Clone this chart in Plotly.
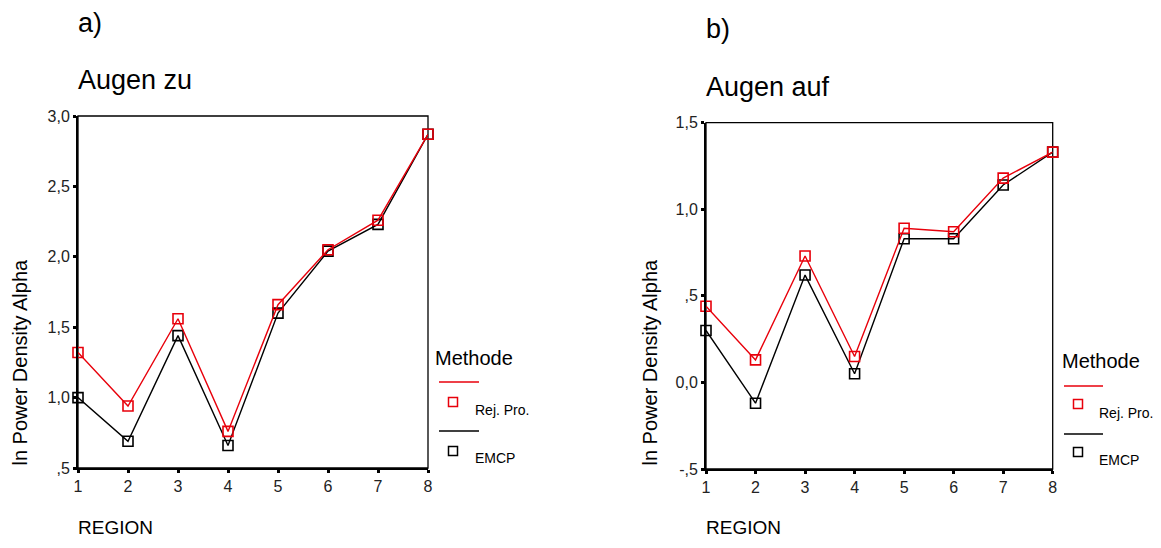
import plotly.graph_objects as go

W, H = 1161, 548          # browser window
BODY = 8                  # default page margin of the browser
FW, FH = W - 2 * BODY, H - 2 * BODY   # figure size so the page fits exactly

# ---- data ----
regions = [1, 2, 3, 4, 5, 6, 7, 8]
zu_rej = [1.32, 0.94, 1.56, 0.76, 1.66, 2.05, 2.26, 2.87]
zu_emcp = [1.00, 0.69, 1.44, 0.66, 1.60, 2.04, 2.23, 2.87]
auf_rej = [0.44, 0.13, 0.73, 0.15, 0.89, 0.87, 1.18, 1.33]
auf_emcp = [0.30, -0.12, 0.62, 0.05, 0.83, 0.83, 1.14, 1.33]

zu_ticks = [0.5, 1.0, 1.5, 2.0, 2.5, 3.0]
zu_ticktext = [",5", "1,0", "1,5", "2,0", "2,5", "3,0"]
auf_ticks = [-0.5, 0.0, 0.5, 1.0, 1.5]
auf_ticktext = ["-,5", "0,0", ",5", "1,0", "1,5"]

RED = "#e8000b"
BLACK = "#000000"
FONT = "Liberation Sans, Arial, sans-serif"


def px(x):
    return (x - BODY) / FW


def py(y):
    return (FH - (y - BODY)) / FH


fig = go.Figure()

panels = [
    dict(xa="x", ya="y", rej=zu_rej, emcp=zu_emcp),
    dict(xa="x2", ya="y2", rej=auf_rej, emcp=auf_emcp),
]
for p in panels:
    for vals, col, name in [(p["emcp"], BLACK, "EMCP"), (p["rej"], RED, "Rej. Pro.")]:
        fig.add_trace(go.Scatter(
            x=regions, y=vals, mode="lines+markers", name=name,
            xaxis=p["xa"], yaxis=p["ya"], cliponaxis=False,
            line=dict(color=col, width=1.4),
            marker=dict(symbol="square-open", size=10, color=col,
                        line=dict(color=col, width=1.6)),
            showlegend=False,
        ))

axis_common = dict(showgrid=False, zeroline=False, showline=True,
                   linecolor="black", linewidth=2, ticks="outside",
                   ticklen=3, tickwidth=3, tickcolor="black", automargin=False,
                   tickfont=dict(family=FONT, size=16, color="#222"))

fig.update_layout(
    width=FW, height=FH,
    margin=dict(l=0, r=0, t=0, b=0, pad=0, autoexpand=False),
    showlegend=False,
    paper_bgcolor="white", plot_bgcolor="white",
    font=dict(family=FONT, color="black"),
    xaxis=dict(domain=[px(78), px(428)], range=[1, 8], anchor="y",
               tickvals=regions, **axis_common),
    yaxis=dict(domain=[py(468), py(116)], range=[0.5, 3.0], anchor="x",
               tickvals=zu_ticks, ticktext=zu_ticktext, **axis_common),
    xaxis2=dict(domain=[px(706), px(1052.7)], range=[1, 8], anchor="y2",
                tickvals=regions, **axis_common),
    yaxis2=dict(domain=[py(469), py(122.7)], range=[-0.5, 1.5], anchor="x2",
                tickvals=auf_ticks, ticktext=auf_ticktext, **axis_common),
)

shapes = []
annotations = []

# frames
for xr, yr in [("x domain", "y domain"), ("x2 domain", "y2 domain")]:
    shapes.append(dict(type="rect", xref=xr, yref=yr, x0=0, x1=1, y0=0, y1=1,
                       line=dict(color="black", width=1.3), layer="below"))


def text(x, y, s, size, xanchor="left", yanchor="middle", angle=0):
    annotations.append(dict(x=px(x), y=py(y), xref="paper", yref="paper",
                            text=s, showarrow=False, xanchor=xanchor,
                            yanchor=yanchor, textangle=angle,
                            font=dict(family=FONT, size=size, color="black")))


# panel labels & titles
text(76, 23, "a)", 27)
text(76, 80, "Augen zu", 27)
text(704, 29, "b)", 27)
text(704, 87, "Augen auf", 27)

# y-axis titles
text(19, 468, "ln Power Density Alpha", 20, xanchor="center", yanchor="bottom", angle=-90)
text(649, 468, "ln Power Density Alpha", 20, xanchor="center", yanchor="bottom", angle=-90)

# x-axis titles (kept inside the figure's bottom edge)
text(76, 540, "REGION", 19, yanchor="bottom")
text(704, 540, "REGION", 19, yanchor="bottom")

# legends
legends = [
    dict(tx=433, ty=358, lx0=439, lx1=479, ly1=382, sx=453, sy1=402,
         lbx=473, lby1=410, ly2=431, sy2=451, lby2=458),
    dict(tx=1060, ty=361, lx0=1064, lx1=1103, ly1=386, sx=1078, sy1=404,
         lbx=1097, lby1=413, ly2=434, sy2=452, lby2=460),
]
for L in legends:
    text(L["tx"], L["ty"], "Methode", 20)
    for col, ly, sy, lby, lab in [(RED, L["ly1"], L["sy1"], L["lby1"], "Rej. Pro."),
                                  (BLACK, L["ly2"], L["sy2"], L["lby2"], "EMCP")]:
        shapes.append(dict(type="line", xref="paper", yref="paper",
                           x0=px(L["lx0"]), x1=px(L["lx1"]), y0=py(ly), y1=py(ly),
                           line=dict(color=col, width=1.4)))
        shapes.append(dict(type="rect", xref="paper", yref="paper",
                           x0=px(L["sx"] - 4.5), x1=px(L["sx"] + 4.5),
                           y0=py(sy + 4.5), y1=py(sy - 4.5),
                           line=dict(color=col, width=1.5)))
        text(L["lbx"], lby, lab, 14)

fig.update_layout(shapes=shapes, annotations=annotations)

fig.write_html("out.html")
